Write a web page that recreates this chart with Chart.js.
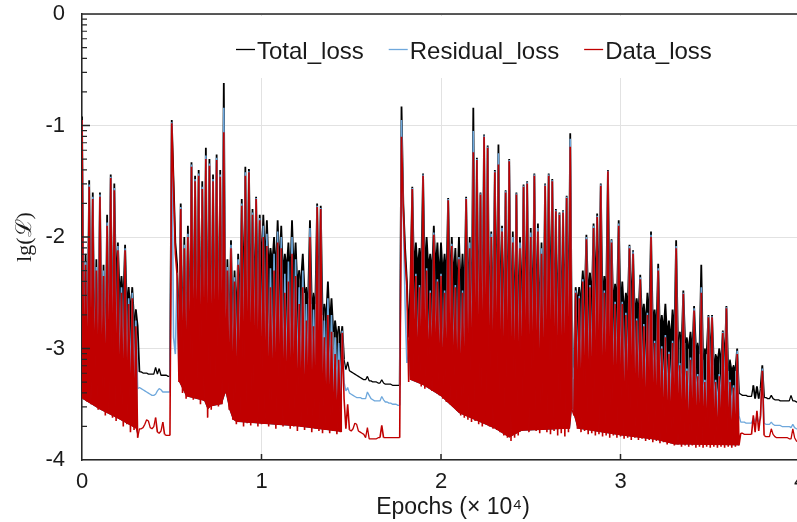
<!DOCTYPE html>
<html>
<head>
<meta charset="utf-8">
<script src="https://cdn.jsdelivr.net/npm/chart.js@4.4.1/dist/chart.umd.min.js"></script>
<style>
  html, body { margin: 0; padding: 0; background: #fff; overflow: hidden; }
  #wrap { position: relative; width: 800px; height: 522px; }
</style>
</head>
<body>
<div id="wrap"><canvas id="chart" width="800" height="522"></canvas></div>
<script>
// one sample every 100 epochs, x in units of 10^4 epochs
const epochs = Array.from({ length: 401 }, (_, i) => i / 100);

// lg of the losses
const totalLoss = [
  -0.92, -3.1, -2.15, -3.12, -1.49, -3.1, -1.6, -3.13, -2.2, -3.15,
  -1.6, -3.14, -2.25, -3.16, -1.8, -3.15, -1.44, -3.17, -1.52, -2.5,
  -2.05, -2.55, -2.35, -2.6, -2.07, -2.65, -2.45, -2.7, -2.45, -2.75,
  -2.65, -2.8, -3.21, -3.21, -3.22, -3.22, -3.22, -3.23, -3.23, -3.23,
  -3.23, -3.17, -3.23, -3.18, -3.24, -3.24, -3.24, -3.24, -3.25, -3.25,
  -0.95, -1.5, -2.05, -2.25, -3.0, -1.7, -3.05, -2.0, -3.05, -1.9,
  -3.03, -1.33, -3.05, -1.45, -3.04, -1.4, -3.07, -1.5, -3.06, -1.2,
  -3.1, -1.3, -3.08, -1.44, -3.07, -1.26, -3.08, -1.4, -3.07, -0.62,
  -3.1, -2.2, -2.9, -2.03, -2.8, -2.3, -2.75, -2.15, -2.7, -1.66,
  -2.65, -1.37, -2.7, -1.39, -2.6, -1.75, -2.65, -1.64, -2.55, -1.8,
  -2.3, -1.8, -2.25, -1.85, -2.3, -2.1, -2.25, -2.0, -2.35, -1.85,
  -2.3, -1.9, -2.35, -2.15, -2.3, -2.05, -2.4, -1.85, -2.35, -2.05,
  -2.45, -2.3, -2.4, -2.15, -2.5, -2.45, -2.55, -1.85, -2.6, -2.5,
  -2.6, -1.7, -2.65, -1.72, -2.7, -2.6, -2.75, -2.4, -2.8, -2.55,
  -2.85, -2.75, -2.9, -2.8, -2.95, -2.8, -3.1, -3.19, -3.12, -3.2,
  -3.21, -3.22, -3.23, -3.24, -3.25, -3.26, -3.27, -3.28, -3.28, -3.25,
  -3.29, -3.29, -3.3, -3.3, -3.3, -3.31, -3.31, -3.28, -3.31, -3.32,
  -3.32, -3.32, -3.32, -3.33, -3.33, -3.33, -3.33, -3.33, -0.83, -1.7,
  -2.1, -2.4, -2.9, -2.4, -1.55, -2.35, -2.05, -2.3, -2.1, -2.3,
  -1.43, -2.35, -2.0, -2.3, -2.15, -2.35, -1.9, -2.3, -2.05, -2.4,
  -2.05, -2.35, -2.15, -2.4, -1.65, -2.45, -2.0, -2.4, -2.1, -2.5,
  -2.0, -2.5, -2.15, -2.55, -1.64, -2.6, -2.0, -2.8, -0.84, -2.85,
  -1.29, -2.8, -1.6, -2.85, -1.08, -3.18, -1.18, -2.85, -1.95, -2.8,
  -1.4, -2.85, -1.17, -2.8, -1.9, -2.85, -1.58, -2.9, -1.3, -2.85,
  -1.95, -2.9, -1.6, -2.85, -2.0, -2.8, -1.53, -2.85, -1.5, -2.9,
  -1.92, -2.85, -1.43, -2.8, -1.88, -2.85, -2.05, -2.9, -1.52, -2.85,
  -1.43, -2.8, -1.48, -2.85, -1.75, -2.9, -1.78, -2.85, -1.76, -2.8,
  -1.63, -2.85, -1.07, -3.15, -3.17, -2.45, -2.6, -2.45, -2.55, -2.3,
  -2.6, -1.98, -2.55, -2.32, -2.6, -1.88, -2.55, -1.79, -2.6, -1.52,
  -2.6, -2.35, -2.55, -1.4, -2.6, -2.02, -2.65, -2.42, -2.6, -1.85,
  -2.65, -2.4, -2.7, -2.5, -2.65, -2.07, -2.7, -2.12, -2.75, -2.55,
  -2.7, -2.34, -2.75, -2.6, -2.8, -2.5, -2.75, -1.95, -2.8, -2.65,
  -2.85, -2.24, -2.9, -2.7, -2.85, -2.6, -2.9, -2.75, -2.95, -2.65,
  -2.9, -2.03, -2.95, -2.85, -3.0, -2.48, -2.95, -2.9, -3.0, -2.85,
  -3.05, -2.62, -3.0, -2.95, -3.05, -2.25, -3.1, -3.0, -3.05, -2.7,
  -3.1, -2.7, -3.15, -3.05, -3.1, -3.0, -3.15, -2.84, -3.15, -2.62,
  -3.2, -3.1, -3.2, -3.15, -3.2, -3.0, -3.4, -3.41, -3.42, -3.42,
  -3.42, -3.43, -3.43, -3.43, -3.33, -3.45, -3.34, -3.45, -3.36, -3.15,
  -3.44, -3.44, -3.45, -3.45, -3.42, -3.45, -3.46, -3.46, -3.46, -3.47,
  -3.47, -3.47, -3.47, -3.47, -3.47, -3.42, -3.47, -3.47, -3.48, -3.48,
  -3.48
];

const residualLoss = [
  -0.95, -3.25, -2.22, -3.27, -1.53, -3.26, -1.64, -3.28, -2.27, -3.3,
  -1.62, -3.29, -2.3, -3.31, -1.87, -3.3, -1.46, -3.32, -1.56, -3.33,
  -2.08, -3.32, -2.45, -3.34, -2.1, -3.33, -2.55, -3.35, -2.5, -3.34,
  -2.75, -3.36, -3.35, -3.36, -3.37, -3.38, -3.39, -3.4, -3.41, -3.42,
  -3.42, -3.41, -3.38, -3.36, -3.37, -3.39, -3.39, -3.39, -3.39, -3.39,
  -0.97, -2.9, -3.05, -2.32, -3.2, -1.73, -3.25, -2.07, -3.25, -1.97,
  -3.24, -1.35, -3.26, -1.48, -3.25, -1.43, -3.28, -1.55, -3.27, -1.27,
  -3.32, -1.34, -3.3, -1.48, -3.29, -1.29, -3.3, -1.44, -3.29, -0.84,
  -3.28, -2.27, -3.25, -2.07, -3.26, -2.36, -3.27, -2.2, -3.26, -1.7,
  -3.28, -1.42, -3.27, -1.41, -3.28, -1.78, -3.27, -1.65, -3.29, -1.83,
  -3.28, -1.9, -3.27, -1.97, -3.3, -2.28, -3.28, -2.15, -3.31, -1.95,
  -3.29, -2.0, -3.3, -2.33, -3.29, -2.22, -3.32, -2.0, -3.31, -2.2,
  -3.33, -2.45, -3.32, -2.3, -3.34, -2.6, -3.33, -1.92, -3.35, -2.65,
  -3.34, -1.72, -3.35, -1.74, -3.36, -2.75, -3.35, -2.55, -3.37, -2.7,
  -3.36, -2.9, -3.38, -2.95, -3.37, -2.84, -3.3, -3.38, -3.35, -3.4,
  -3.41, -3.42, -3.43, -3.44, -3.44, -3.44, -3.45, -3.45, -3.45, -3.39,
  -3.42, -3.45, -3.46, -3.47, -3.47, -3.47, -3.47, -3.43, -3.46, -3.48,
  -3.48, -3.49, -3.49, -3.5, -3.5, -3.5, -3.51, -3.51, -0.95, -1.8,
  -2.6, -3.13, -3.03, -3.25, -1.56, -3.1, -2.33, -3.12, -2.43, -3.14,
  -1.44, -3.15, -2.28, -3.14, -2.48, -3.17, -1.96, -3.16, -2.38, -3.2,
  -2.33, -3.22, -2.48, -3.22, -1.66, -3.24, -2.06, -3.25, -2.43, -3.26,
  -2.18, -3.28, -2.48, -3.28, -1.65, -3.3, -2.05, -3.3, -1.05, -3.31,
  -1.3, -3.3, -1.61, -3.32, -1.09, -3.28, -1.19, -3.33, -1.97, -3.34,
  -1.41, -3.34, -1.25, -3.35, -1.92, -3.36, -1.59, -3.36, -1.31, -3.37,
  -2.0, -3.36, -1.61, -3.36, -2.05, -3.35, -1.54, -3.35, -1.51, -3.36,
  -1.96, -3.35, -1.44, -3.36, -1.92, -3.36, -2.1, -3.35, -1.53, -3.36,
  -1.44, -3.37, -1.49, -3.36, -1.76, -3.37, -1.79, -3.37, -1.77, -3.38,
  -1.64, -3.37, -1.12, -3.26, -3.27, -2.48, -3.3, -2.53, -3.31, -2.38,
  -3.31, -2.0, -3.32, -2.43, -3.32, -1.9, -3.33, -1.81, -3.33, -1.53,
  -3.34, -2.48, -3.34, -1.405, -3.35, -2.03, -3.35, -2.58, -3.36, -1.88,
  -3.36, -2.58, -3.37, -2.68, -3.37, -2.08, -3.38, -2.13, -3.38, -2.73,
  -3.39, -2.36, -3.39, -2.78, -3.4, -2.68, -3.4, -1.98, -3.41, -2.93,
  -3.41, -2.28, -3.42, -2.98, -3.42, -2.88, -3.43, -3.03, -3.43, -2.93,
  -3.44, -2.08, -3.44, -3.13, -3.45, -2.5, -3.45, -3.18, -3.46, -3.08,
  -3.46, -2.64, -3.47, -3.23, -3.47, -2.45, -3.48, -3.28, -3.48, -2.71,
  -3.49, -2.71, -3.49, -3.28, -3.5, -3.23, -3.5, -2.85, -3.51, -2.63,
  -3.51, -3.28, -3.52, -3.33, -3.52, -3.02, -3.6, -3.66, -3.66, -3.66,
  -3.67, -3.67, -3.67, -3.67, -3.62, -3.66, -3.6, -3.66, -3.63, -3.18,
  -3.67, -3.68, -3.68, -3.68, -3.66, -3.68, -3.69, -3.69, -3.69, -3.69,
  -3.7, -3.7, -3.7, -3.7, -3.7, -3.71, -3.68, -3.71, -3.72, -3.72,
  -3.72
];

const dataLoss = [
  -0.95, -3.45, -2.25, -3.48, -1.55, -3.5, -1.66, -3.47, -2.3, -3.55,
  -1.64, -3.52, -2.35, -3.6, -1.9, -3.58, -1.47, -3.62, -1.58, -3.65,
  -2.12, -3.63, -2.5, -3.7, -2.12, -3.68, -2.6, -3.75, -2.55, -3.73,
  -2.8, -3.8, -3.72, -3.72, -3.71, -3.68, -3.64, -3.65, -3.71, -3.72,
  -3.7, -3.62, -3.75, -3.76, -3.74, -3.66, -3.77, -3.78, -3.78, -3.78,
  -0.98, -1.55, -2.15, -2.35, -3.3, -1.75, -3.4, -2.1, -3.45, -2.0,
  -3.42, -1.37, -3.46, -1.5, -3.44, -1.45, -3.5, -1.57, -3.47, -1.3,
  -3.62, -1.36, -3.55, -1.5, -3.5, -1.31, -3.52, -1.46, -3.5, -1.06,
  -3.4, -2.3, -3.55, -2.1, -3.64, -2.4, -3.68, -2.25, -3.66, -1.72,
  -3.7, -1.45, -3.67, -1.42, -3.69, -1.8, -3.66, -1.66, -3.7, -1.85,
  -3.68, -2.0, -3.65, -2.08, -3.7, -2.45, -3.66, -2.3, -3.72, -2.05,
  -3.68, -2.1, -3.7, -2.5, -3.66, -2.4, -3.72, -2.15, -3.7, -2.35,
  -3.74, -2.6, -3.7, -2.45, -3.73, -2.75, -3.7, -2.0, -3.75, -2.8,
  -3.72, -1.73, -3.74, -1.75, -3.76, -2.9, -3.73, -2.7, -3.76, -2.85,
  -3.74, -3.05, -3.77, -3.1, -3.75, -2.86, -3.45, -3.72, -3.5, -3.73,
  -3.74, -3.72, -3.67, -3.68, -3.74, -3.75, -3.76, -3.77, -3.8, -3.71,
  -3.81, -3.81, -3.81, -3.81, -3.81, -3.8, -3.8, -3.69, -3.8, -3.8,
  -3.8, -3.8, -3.8, -3.8, -3.8, -3.8, -3.8, -3.8, -1.1, -1.75,
  -2.2, -2.45, -3.3, -2.5, -1.57, -3.28, -2.35, -3.3, -2.45, -3.34,
  -1.45, -3.36, -2.3, -3.33, -2.5, -3.38, -1.98, -3.36, -2.4, -3.42,
  -2.35, -3.45, -2.5, -3.48, -1.67, -3.5, -2.08, -3.52, -2.45, -3.56,
  -2.2, -3.6, -2.5, -3.62, -1.66, -3.64, -2.1, -3.66, -1.24, -3.65,
  -1.31, -3.68, -1.62, -3.7, -1.1, -3.62, -1.2, -3.7, -2.0, -3.72,
  -1.42, -3.73, -1.35, -3.75, -1.95, -3.78, -1.6, -3.8, -1.32, -3.83,
  -2.05, -3.8, -1.62, -3.78, -2.1, -3.74, -1.55, -3.73, -1.52, -3.75,
  -2.0, -3.72, -1.45, -3.74, -1.95, -3.76, -2.15, -3.72, -1.54, -3.75,
  -1.45, -3.77, -1.5, -3.74, -1.77, -3.78, -1.8, -3.76, -1.78, -3.79,
  -1.65, -3.75, -1.19, -3.55, -3.6, -2.5, -3.72, -2.55, -3.75, -2.4,
  -3.74, -2.02, -3.77, -2.45, -3.76, -1.92, -3.78, -1.82, -3.77, -1.54,
  -3.79, -2.5, -3.78, -1.41, -3.8, -2.05, -3.78, -2.6, -3.8, -1.9,
  -3.79, -2.6, -3.81, -2.7, -3.8, -2.1, -3.82, -2.15, -3.8, -2.75,
  -3.82, -2.38, -3.81, -2.8, -3.83, -2.7, -3.82, -2.0, -3.84, -2.95,
  -3.83, -2.3, -3.85, -3.0, -3.84, -2.9, -3.86, -3.05, -3.85, -2.95,
  -3.87, -2.1, -3.86, -3.15, -3.88, -2.51, -3.87, -3.2, -3.88, -3.1,
  -3.87, -2.66, -3.89, -3.25, -3.88, -2.5, -3.89, -3.3, -3.88, -2.72,
  -3.89, -2.72, -3.88, -3.3, -3.89, -3.25, -3.88, -2.86, -3.89, -2.64,
  -3.88, -3.3, -3.89, -3.35, -3.88, -3.05, -3.87, -3.76, -3.76, -3.77,
  -3.77, -3.77, -3.77, -3.77, -3.6, -3.75, -3.56, -3.74, -3.6, -3.2,
  -3.78, -3.79, -3.79, -3.79, -3.72, -3.77, -3.79, -3.8, -3.8, -3.8,
  -3.8, -3.8, -3.8, -3.8, -3.81, -3.81, -3.72, -3.8, -3.83, -3.84,
  -3.85
];

// lower edge of the dense oscillation bands (null = no band there)
const bandFloorEpochs = [
  0, 0.1, 0.2, 0.3, 0.31, 0.4, 0.54, 0.58, 0.68, 0.7,
  0.72, 0.78, 0.8, 0.82, 0.84, 0.86, 1.2, 1.45, 1.6, 1.825,
  1.9, 2.0, 2.1, 2.2, 2.3, 2.38, 2.45, 2.72, 2.73, 2.74,
  2.76, 3.0, 3.2, 3.3, 3.66, 3.8
];
const bandFloor = [
  -3.45, -3.55, -3.63, -3.72, -3.8, null, -3.3, -3.43, -3.47, -3.55,
  -3.52, -3.5, -3.4, -3.55, -3.64, -3.66, -3.7, -3.75, null, -3.28,
  -3.33, -3.43, -3.58, -3.65, -3.72, -3.8, -3.74, -3.72, -3.55, -3.6,
  -3.72, -3.78, -3.82, -3.86, -3.87, null
];

const xTicks = [0, 1, 2, 3, 4];
const yTicks = [0, -1, -2, -3, -4];
const seriesNames = ['Total_loss', 'Residual_loss', 'Data_loss'];
const seriesColors = ['#000000', '#6fa8dc', '#c00000'];
const xTitle = 'Epochs (× 10⁴)';
const yTitle = 'lg(ℒ)';

const axisColor = '#262626';
const textColor = '#1a1a1a';
const sansFont = 'Arial, "Liberation Sans", sans-serif';
const clear = 'rgba(0,0,0,0)';

function toPoints(xs, ys) {
  return ys.map((y, i) => ({ x: xs[i], y: y }));
}

// steep oscillation segments get a heavier stroke
function segWidth(steep) {
  return c => (Math.abs(c.p1.y - c.p0.y) > 12 ? steep : 1.3);
}

// fill under a series down to the band floor (dataset 3)
function bandFill(color) {
  return { target: 3, above: color, below: clear };
}

// inner ticks, top frame line, x title and the legend panel
const decor = {
  id: 'decor',
  beforeDatasetsDraw(chart) {
    const ctx = chart.ctx;
    ctx.save();
    ctx.fillStyle = '#ffffff';
    ctx.fillRect(226, chart.chartArea.top + 2, 498, 62);
    ctx.font = '24px ' + sansFont;
    ctx.textBaseline = 'alphabetic';
    let x = 236;
    seriesNames.forEach((name, i) => {
      ctx.strokeStyle = seriesColors[i];
      ctx.lineWidth = 1.3;
      ctx.beginPath();
      ctx.moveTo(x, 49.5);
      ctx.lineTo(x + 19, 49.5);
      ctx.stroke();
      ctx.fillStyle = textColor;
      ctx.fillText(name, x + 21, 58.5);
      x += 21 + ctx.measureText(name).width + 25;
    });
    ctx.restore();
  },
  afterDatasetsDraw(chart) {
    const ctx = chart.ctx;
    const a = chart.chartArea;
    const xs = chart.scales.x;
    const ys = chart.scales.y;
    ctx.save();
    ctx.strokeStyle = axisColor;
    ctx.lineWidth = 1.5;
    ctx.beginPath();
    ctx.moveTo(a.left, a.top);
    ctx.lineTo(a.right, a.top);
    xTicks.slice(1, -1).forEach(v => {
      const px = xs.getPixelForValue(v);
      ctx.moveTo(px, a.bottom);
      ctx.lineTo(px, a.bottom - 6);
    });
    yTicks.slice(1, -1).forEach(v => {
      const py = ys.getPixelForValue(v);
      ctx.moveTo(a.left, py);
      ctx.lineTo(a.left + 8, py);
    });
    ctx.stroke();
    ctx.lineWidth = 1.2;
    ctx.beginPath();
    yTicks.slice(0, -1).forEach(top => {
      for (let k = 2; k <= 9; k++) {
        const py = ys.getPixelForValue(top + Math.log10(k / 10));
        ctx.moveTo(a.left, py);
        ctx.lineTo(a.left + 5, py);
      }
    });
    ctx.stroke();
    ctx.fillStyle = textColor;
    ctx.font = '23px ' + sansFont;
    ctx.textAlign = 'center';
    ctx.textBaseline = 'alphabetic';
    ctx.fillText(xTitle, 453, 513.5);
    ctx.restore();
  }
};

const ctx = document.getElementById('chart').getContext('2d');
new Chart(ctx, {
  type: 'line',
  data: {
    datasets: [
      {
        label: seriesNames[0],
        data: toPoints(epochs, totalLoss),
        borderColor: seriesColors[0],
        segment: { borderWidth: segWidth(1.8) },
        fill: bandFill(seriesColors[0]),
        order: 3
      },
      {
        label: seriesNames[1],
        data: toPoints(epochs, residualLoss),
        borderColor: seriesColors[1],
        segment: { borderWidth: segWidth(1.6) },
        fill: bandFill(seriesColors[1]),
        order: 2
      },
      {
        label: seriesNames[2],
        data: toPoints(epochs, dataLoss),
        borderColor: seriesColors[2],
        segment: { borderWidth: segWidth(1.6) },
        fill: bandFill(seriesColors[2]),
        order: 1
      },
      {
        label: 'band floor',
        data: toPoints(bandFloorEpochs, bandFloor),
        borderColor: clear,
        borderWidth: 0,
        spanGaps: false,
        order: 4
      }
    ]
  },
  options: {
    responsive: false,
    animation: false,
    devicePixelRatio: 1,
    layout: { padding: { top: 14, left: 0, right: 0, bottom: 0 } },
    elements: {
      line: { borderWidth: 1.3, tension: 0, fill: false, borderJoinStyle: 'bevel' },
      point: { radius: 0 }
    },
    plugins: {
      legend: { display: false },
      tooltip: { enabled: false }
    },
    scales: {
      x: {
        type: 'linear',
        min: 0,
        max: 4,
        afterBuildTicks: s => { s.ticks = xTicks.map(v => ({ value: v })); },
        afterFit: s => { s.height = 62; s.paddingLeft = 0; s.paddingRight = 0; },
        ticks: { font: { family: sansFont, size: 22 }, color: textColor, padding: 9, maxRotation: 0 },
        grid: { color: '#e2e2e2', drawTicks: false },
        border: { color: axisColor, width: 1.5 }
      },
      y: {
        min: -4,
        max: 0,
        afterBuildTicks: s => { s.ticks = yTicks.map(v => ({ value: v })); },
        afterFit: s => { s.width = 82; s.paddingTop = 0; s.paddingBottom = 0; },
        ticks: { font: { family: sansFont, size: 22 }, color: textColor, padding: 17 },
        grid: { color: '#e2e2e2', drawTicks: false },
        border: { color: axisColor, width: 1.5 },
        title: {
          display: true,
          text: yTitle,
          font: { family: '"Liberation Serif", "DejaVu Serif", serif', size: 22 },
          color: textColor,
          padding: { top: 12, bottom: 0 }
        }
      }
    }
  },
  plugins: [decor]
});
</script>
</body>
</html>
